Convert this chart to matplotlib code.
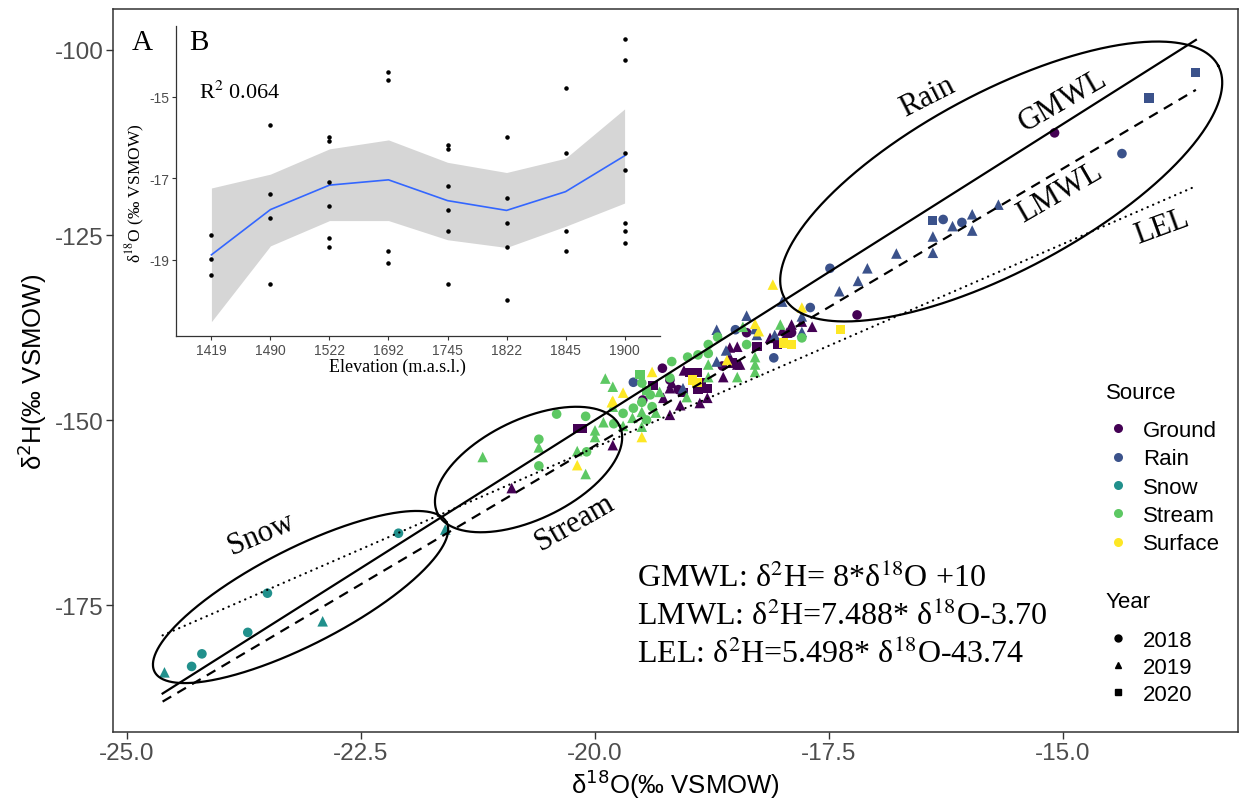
import numpy as np
import matplotlib.pyplot as plt
from matplotlib.lines import Line2D

plt.rcParams['font.family'] = ['Liberation Sans', 'DejaVu Sans']
plt.rcParams['axes.unicode_minus'] = False

# isotope samples: (d18O, d2H, year)
ground = [
    (-15.09, -111.2, 2018), (-17.20, -135.8, 2018), (-19.28, -143.0, 2018),
    (-19.11, -145.9, 2018), (-18.38, -138.2, 2018), (-17.90, -138.2, 2018),
    (-19.20, -144.6, 2018), (-18.64, -142.7, 2018), (-19.49, -147.3, 2018),
    (-20.89, -159.2, 2019), (-19.81, -153.4, 2019), (-19.20, -149.3, 2019),
    (-19.09, -148.0, 2019), (-19.20, -145.7, 2019), (-19.27, -147.0, 2019),
    (-18.48, -140.1, 2019), (-18.13, -138.9, 2019), (-17.95, -138.2, 2019),
    (-17.90, -137.1, 2019), (-17.79, -136.7, 2019), (-18.56, -140.2, 2019),
    (-18.56, -141.5, 2019), (-18.45, -142.5, 2019), (-17.68, -137.4, 2019),
    (-19.18, -145.0, 2019), (-18.80, -147.0, 2019), (-18.48, -142.5, 2019),
    (-18.63, -144.2, 2019), (-18.88, -147.7, 2019), (-19.05, -143.3, 2019),
    (-18.00, -137.9, 2019),
    (-20.19, -151.1, 2020), (-20.13, -151.1, 2020), (-19.38, -145.3, 2020),
    (-18.27, -140.1, 2020), (-18.05, -139.8, 2020), (-18.53, -142.3, 2020),
    (-18.91, -143.6, 2020), (-18.80, -145.7, 2020), (-18.90, -145.9, 2020),
    (-18.99, -143.6, 2020), (-18.86, -145.0, 2020), (-19.06, -146.3, 2020),
]
rain = [
    (-14.37, -114.0, 2018), (-16.08, -123.3, 2018), (-16.28, -122.9, 2018),
    (-17.49, -129.5, 2018), (-17.70, -134.8, 2018), (-19.59, -144.9, 2018),
    (-18.09, -141.6, 2018), (-18.50, -137.8, 2018),
    (-15.69, -120.9, 2019), (-15.97, -122.2, 2019), (-15.97, -124.4, 2019),
    (-16.18, -123.8, 2019), (-16.39, -125.2, 2019), (-16.39, -127.4, 2019),
    (-16.78, -127.5, 2019), (-17.09, -129.5, 2019), (-17.19, -131.2, 2019),
    (-17.39, -132.6, 2019), (-18.00, -134.0, 2019), (-17.79, -136.0, 2019),
    (-18.38, -135.9, 2019), (-18.29, -137.7, 2019), (-18.70, -137.8, 2019),
    (-18.27, -138.5, 2019), (-17.79, -138.1, 2019), (-18.08, -138.5, 2019),
    (-18.70, -142.1, 2019), (-19.06, -145.7, 2019), (-18.60, -140.6, 2019),
    (-13.58, -103.0, 2020), (-14.08, -106.5, 2020), (-16.39, -123.0, 2020),
]
snow = [
    (-24.31, -183.3, 2018), (-24.20, -181.6, 2018), (-23.71, -178.7, 2018),
    (-23.50, -173.4, 2018), (-22.10, -165.3, 2018),
    (-24.60, -184.1, 2019), (-22.91, -177.2, 2019), (-21.60, -164.8, 2019),
]
stream = [
    (-20.41, -149.2, 2018), (-20.10, -149.5, 2018), (-20.60, -152.6, 2018),
    (-20.60, -156.2, 2018), (-20.09, -154.3, 2018), (-19.50, -145.0, 2018),
    (-19.18, -142.1, 2018), (-19.50, -147.6, 2018), (-19.59, -148.4, 2018),
    (-19.70, -149.1, 2018), (-19.41, -146.6, 2018), (-19.39, -148.2, 2018),
    (-19.20, -144.3, 2018), (-18.79, -139.8, 2018), (-18.69, -138.8, 2018),
    (-18.38, -139.8, 2018), (-18.79, -141.0, 2018), (-19.01, -141.5, 2018),
    (-18.90, -141.2, 2018), (-17.79, -138.9, 2018), (-19.80, -150.5, 2018),
    (-19.45, -150.0, 2018),
    (-21.20, -155.0, 2019), (-20.60, -153.7, 2019), (-20.19, -154.2, 2019),
    (-20.10, -157.3, 2019), (-20.00, -151.4, 2019), (-20.00, -152.3, 2019),
    (-19.91, -150.3, 2019), (-19.89, -144.4, 2019), (-19.81, -145.5, 2019),
    (-19.81, -148.2, 2019), (-19.31, -146.2, 2019), (-19.60, -149.7, 2019),
    (-19.50, -148.9, 2019), (-19.50, -150.9, 2019), (-18.42, -137.4, 2019),
    (-18.02, -137.1, 2019), (-18.29, -141.5, 2019), (-18.29, -142.5, 2019),
    (-18.29, -143.5, 2019), (-18.79, -142.5, 2019), (-18.79, -144.2, 2019),
    (-18.48, -144.2, 2019), (-19.02, -146.9, 2019), (-19.70, -150.8, 2019),
    (-19.35, -149.0, 2019),
    (-19.52, -143.9, 2020), (-19.45, -146.0, 2020),
]
surface = [
    (-19.82, -147.6, 2019), (-19.70, -146.3, 2019), (-19.81, -147.4, 2019),
    (-19.39, -143.5, 2019), (-19.50, -152.3, 2019), (-20.19, -156.1, 2019),
    (-18.29, -137.0, 2019), (-18.59, -141.9, 2019), (-18.10, -131.7, 2019),
    (-17.79, -134.8, 2019), (-18.25, -138.0, 2019),
    (-17.99, -139.6, 2020), (-18.96, -144.6, 2020), (-17.38, -137.8, 2020),
    (-18.91, -144.9, 2020), (-17.90, -139.8, 2020),
]

sources = ['Ground', 'Rain', 'Snow', 'Stream', 'Surface']
source_data = [ground, rain, snow, stream, surface]
source_colors = ['#440154', '#3B528B', '#21908C', '#5DC863', '#FDE725']
years = [2018, 2019, 2020]
year_markers = {2018: 'o', 2019: '^', 2020: 's'}
marker_sizes = {2018: 48, 2019: 58, 2020: 44}

# regression lines: slope, intercept
lines = {'GMWL': (8.0, 10.0), 'LMWL': (7.488, -3.70), 'LEL': (5.498, -43.74)}
line_x = [-24.62, -13.58]

# inset: d18O by sampling elevation
elevations = ['1419', '1490', '1522', '1692', '1745', '1822', '1845', '1900']
elev_samples = [
    [-18.39, -18.98, -19.37],
    [-15.69, -17.39, -17.98, -19.60],
    [-16.00, -16.08, -17.09, -17.69, -18.47, -18.68],
    [-14.39, -14.59, -18.79, -19.09],
    [-16.18, -16.28, -17.19, -17.79, -18.29, -19.60],
    [-15.99, -17.49, -18.09, -18.69, -19.99],
    [-14.79, -16.39, -18.29, -18.79],
    [-13.59, -14.10, -16.39, -16.79, -18.09, -18.29, -18.59],
]
smooth_fit = [-18.88, -17.77, -17.17, -17.04, -17.55, -17.79, -17.33, -16.45]
smooth_upper = [-17.24, -16.90, -16.28, -16.06, -16.61, -16.86, -16.51, -15.30]
smooth_lower = [-20.52, -18.66, -18.04, -18.04, -18.51, -18.70, -18.18, -17.61]

# ellipses round sample groups: centre (data), semi-axes (px), angle (deg)
ellipses = [
    ((-15.66, -117.77), 246, 89, 28.1),
    ((-23.146, -173.92), 164, 48, 27.1),
    ((-20.71, -156.69), 101, 50, 25.6),
]

W, H = 1241, 803
fig = plt.figure(figsize=(W / 100, H / 100), dpi=100)
ax = fig.add_axes([113 / W, 1 - 733 / H, 1125 / W, 723 / H])
xlim = (-25.15, -13.13)
ylim = (-192.16, -94.46)
ax.set_xlim(*xlim)
ax.set_ylim(*ylim)

for name, data, col in zip(sources, source_data, source_colors):
    for yr in years:
        pts = [(x, y) for x, y, yy in data if yy == yr]
        if not pts:
            continue
        xs, ys = zip(*pts)
        ax.scatter(xs, ys, s=marker_sizes[yr], marker=year_markers[yr],
                   color=col, edgecolors='none', zorder=3)

lx = np.array(line_x)
styles = {'GMWL': dict(ls='-'), 'LMWL': dict(ls=(0, (4.5, 3.2))),
          'LEL': dict(ls=(0, (0.1, 2.6)), dash_capstyle='round')}
for name, (m, c) in lines.items():
    ax.plot(lx, m * lx + c, color='black', lw=1.6, zorder=4, **styles[name])

# pixel scale of the data axes, used to keep the ellipses' screen shape
sx = 1125 / (xlim[1] - xlim[0])
sy = 723 / (ylim[1] - ylim[0])
t = np.linspace(0, 2 * np.pi, 400)
for (cx, cy), a, b, ang in ellipses:
    th = np.radians(ang)
    ex, ey = a * np.cos(t), b * np.sin(t)
    px = ex * np.cos(th) - ey * np.sin(th)
    py = ex * np.sin(th) + ey * np.cos(th)
    ax.plot(cx + px / sx, cy + py / sy, color='black', lw=1.6, zorder=5)

serif = dict(family='Liberation Serif', math_fontfamily='stix', color='black')
for txt, x, y, rot in [('Rain', -16.45, -106.2, 27), ('GMWL', -15.0, -106.8, 30),
                       ('LMWL', -15.03, -119.2, 30), ('LEL', -13.94, -123.8, 20),
                       ('Snow', -23.57, -165.3, 23), ('Stream', -20.22, -163.8, 30)]:
    ax.text(x, y, txt, fontsize=22, rotation=rot, ha='center', va='center',
            rotation_mode='anchor', **serif)

eqs = ['GMWL: δ$^{2}$H= 8*δ$^{18}$O +10',
       'LMWL: δ$^{2}$H=7.488* δ$^{18}$O-3.70',
       'LEL: δ$^{2}$H=5.498* δ$^{18}$O-43.74']
for i, eq in enumerate(eqs):
    ax.text(-19.55, -171.3 - 5.1 * i, eq, fontsize=23, ha='left', va='center', **serif)

ax.set_xticks([-25.0, -22.5, -20.0, -17.5, -15.0])
ax.set_xticklabels(['-25.0', '-22.5', '-20.0', '-17.5', '-15.0'])
ax.set_yticks([-175, -150, -125, -100])
ax.tick_params(labelsize=17.5, labelcolor='#4D4D4D', color='#333333',
               length=5, width=1.0, pad=2)
for sp in ax.spines.values():
    sp.set_color('#333333')
    sp.set_linewidth(1.1)
ax.set_xlabel('δ$^{18}$O(‰ VSMOW)', fontsize=18.5, math_fontfamily='dejavusans', labelpad=2)
ax.set_ylabel('δ$^{2}$H(‰ VSMOW)', fontsize=18.5, math_fontfamily='dejavusans', labelpad=4)

# legends: titles drawn separately so the gap under them can be set freely
leg_kw = dict(loc='upper left', bbox_transform=fig.transFigure, frameon=False,
              fontsize=16, handlelength=1.27, handletextpad=0.5,
              borderpad=0, borderaxespad=0)
fig.text(1106 / W, 1 - 394 / H, 'Source', fontsize=16, ha='left', va='center')
src_handles = [Line2D([], [], ls='none', marker='o', ms=6.5, color=c, mec='none')
               for c in source_colors]
leg1 = ax.legend(src_handles, sources, bbox_to_anchor=(1104 / W, 1 - 421 / H),
                 labelspacing=0.33, **leg_kw)
ax.add_artist(leg1)
fig.text(1106 / W, 1 - 603 / H, 'Year', fontsize=16, ha='left', va='center')
yr_handles = [Line2D([], [], ls='none', marker=year_markers[y], ms=5, color='black')
              for y in years]
ax.legend(yr_handles, [str(y) for y in years], bbox_to_anchor=(1104 / W, 1 - 631 / H),
          labelspacing=0.27, **leg_kw)

fig.text(142 / W, 1 - 43 / H, 'A', fontsize=21, ha='center', va='center', **serif)

# elevation inset
ins = fig.add_axes([176 / W, 1 - 337 / H, 484 / W, 310 / H])
pos = np.arange(1, len(elevations) + 1)
ins.fill_between(pos, smooth_lower, smooth_upper, color='#D6D6D6', lw=0, zorder=1)
ins.plot(pos, smooth_fit, color='#3366FF', lw=1.2, zorder=2)
for p, vals in zip(pos, elev_samples):
    ins.scatter([p] * len(vals), vals, s=5, color='black', zorder=3)
ins.set_xlim(0.4, 8.6)
ins.set_ylim(-20.872, -13.265)
ins.set_xticks(pos)
ins.set_xticklabels(elevations)
ins.set_yticks([-19, -17, -15])
ins.tick_params(labelsize=10, labelcolor='#4D4D4D', color='#333333',
                length=3, width=0.8, pad=2)
for s in ['top', 'right']:
    ins.spines[s].set_visible(False)
for s in ['left', 'bottom']:
    ins.spines[s].set_color('#333333')
    ins.spines[s].set_linewidth(0.9)
ins.set_xlabel('Elevation (m.a.s.l.)', fontsize=13, **serif)
ins.xaxis.set_label_coords(0.4576, -0.07)
ins.set_ylabel('δ$^{18}$O (‰ VSMOW)', fontsize=12.5, **serif)
ins.yaxis.set_label_coords(-0.06, 0.465)
fig.text(199 / W, 1 - 43 / H, 'B', fontsize=21, ha='center', va='center', **serif)
fig.text(199 / W, 1 - 93 / H, 'R$^{2}$ 0.064', fontsize=16, ha='left', va='center', **serif)

fig.savefig('out.png', dpi=100)
